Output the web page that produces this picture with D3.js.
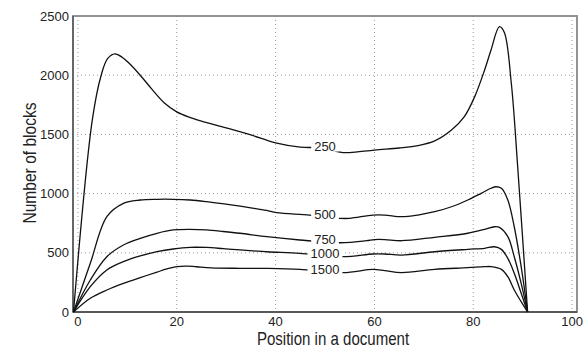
<!DOCTYPE html>
<html>
<head>
<meta charset="utf-8">
<script src="https://cdn.jsdelivr.net/npm/d3@7"></script>
<style>
  body { margin: 0; background: #fff; }
  text { font-family: "Liberation Sans", Arial, sans-serif; fill: #222; }
</style>
</head>
<body>
<svg width="585" height="349"></svg>
<script>
// ticks
var xTicks = [0, 20, 40, 60, 80, 100];
var yTicks = [0, 500, 1000, 1500, 2000, 2500];
var gridY = [500, 1000, 1500, 2000];

// curves, one per block size (position, number of blocks)
var names = ["250", "500", "750", "1000", "1500"];
var s250 = [[-0.9,0],[2.9,1620],[4.7,2000],[6,2140],[7.5,2180],[9,2150],[10,2115],[12.6,2000],[15,1880],[17.5,1765],[20,1690],[22.5,1645],[25,1612],[30,1555],[35,1495],[40,1428],[45,1392],[50,1385],[53,1350],[55,1346],[60,1368],[65,1385],[68.8,1405],[72.2,1445],[75.6,1537],[78.2,1650],[80.3,1819],[82.3,2044],[83.6,2213],[85.3,2410],[86.3,2360],[87.7,1934],[89,1225],[91,0]];
var s500 = [[-0.9,0],[2.5,411],[5.85,805],[9.2,918],[12.6,946],[16,952],[19.3,952],[22.7,946],[26,932],[31,905],[35,880],[38.2,858],[40.2,839],[46.9,819],[53,791],[55,791],[59.7,819],[62.1,819],[65.5,805],[68.8,819],[72.2,847],[75.6,889],[78.9,946],[81.6,1002],[83.6,1045],[84.6,1058],[85.7,1045],[87,946],[88.3,720],[89.7,383],[91,0]];
var s750 = [[-0.9,0],[2.5,270],[5.85,467],[9.2,566],[12.6,622],[16,665],[19.3,693],[22.7,698],[26,693],[29.4,680],[32.8,665],[38.2,636],[44.9,608],[53,585],[58.4,602],[60,612],[62.1,612],[65.5,602],[72.2,631],[78.9,665],[82.3,698],[84.3,720],[85.3,715],[87,636],[88.3,467],[89.7,242],[91,0]];
var s1000 = [[-0.9,0],[2.5,214],[5.85,355],[9.2,425],[12.6,473],[16,509],[19.3,532],[22.7,546],[26,545],[29.4,535],[32.8,524],[38.2,509],[44.9,495],[53.7,467],[59.7,490],[62.1,490],[65.5,481],[72.2,509],[78.9,529],[82.3,538],[84.3,551],[85.7,529],[87,453],[88.3,327],[89.7,158],[91,0]];
var s1500 = [[-0.9,0],[2.5,116],[5.85,186],[9.2,242],[12.6,290],[16,337],[18,364],[20,384],[22,388],[24,382],[27,373],[32.8,369],[38.2,368],[44.9,360],[53.7,332],[59.7,360],[62.1,349],[65.5,332],[72.2,360],[78.9,374],[82.3,383],[83.6,383],[85.7,360],[87,298],[88.3,186],[89.7,87],[91,0]];
var series = [s250, s500, s750, s1000, s1500];
var labelAt = 50;

var svg = d3.select("svg");
var pLeft = 73, pRight = 577, pTop = 16, pBottom = 312;

var x = d3.scaleLinear().domain([-1, 101]).range([pLeft, pRight]);
var y = d3.scaleLinear().domain([0, 2500]).range([pBottom, pTop]);

// grid
svg.append("g").selectAll("line").data(xTicks).enter().append("line")
    .attr("x1", d => x(d)).attr("x2", d => x(d))
    .attr("y1", pTop).attr("y2", pBottom)
    .attr("stroke", "#999").attr("stroke-width", 1)
    .attr("stroke-dasharray", "1,3");
svg.append("g").selectAll("line").data(gridY).enter().append("line")
    .attr("x1", pLeft).attr("x2", pRight)
    .attr("y1", d => y(d)).attr("y2", d => y(d))
    .attr("stroke", "#999").attr("stroke-width", 1)
    .attr("stroke-dasharray", "1,3");

// frame
svg.append("rect")
    .attr("x", pLeft).attr("y", pTop)
    .attr("width", pRight - pLeft).attr("height", pBottom - pTop)
    .attr("fill", "none").attr("stroke", "#888").attr("stroke-width", 1.8);
svg.append("line").attr("x1", pLeft).attr("x2", pRight).attr("y1", pBottom).attr("y2", pBottom)
    .attr("stroke", "#444").attr("stroke-width", 1.4);
svg.append("line").attr("x1", pLeft).attr("x2", pLeft).attr("y1", pTop).attr("y2", pBottom)
    .attr("stroke", "#555").attr("stroke-width", 1.4);

// tick labels
svg.append("g").selectAll("text").data(xTicks).enter().append("text")
    .attr("x", d => x(d)).attr("y", 326)
    .attr("text-anchor", "middle").attr("font-size", 13)
    .text(d => d);
svg.append("g").selectAll("text").data(yTicks).enter().append("text")
    .attr("x", 69).attr("y", d => y(d)).attr("dy", "0.35em")
    .attr("text-anchor", "end").attr("font-size", 13)
    .text(d => d);

// axis titles (text in the picture is a bit narrow, so squeeze it)
svg.append("text")
    .attr("transform", "translate(333,345) scale(0.86,1)")
    .attr("text-anchor", "middle").attr("font-size", 17.5)
    .text("Position in a document");
svg.append("text")
    .attr("transform", "translate(36,163) rotate(-90) scale(0.82,1)")
    .attr("text-anchor", "middle").attr("font-size", 19)
    .text("Number of blocks");

// curves
var line = d3.line()
    .x(d => x(d[0])).y(d => y(d[1]))
    .curve(d3.curveCatmullRom.alpha(0.5));

svg.append("g").selectAll("path").data(series).enter().append("path")
    .attr("d", line)
    .attr("fill", "none").attr("stroke", "#111").attr("stroke-width", 1.3);

// inline labels
function valueAt(s, px) {
    for (var i = 1; i < s.length; i++) {
        if (s[i][0] >= px) {
            var t = (px - s[i-1][0]) / (s[i][0] - s[i-1][0]);
            return s[i-1][1] + t * (s[i][1] - s[i-1][1]);
        }
    }
    return s[s.length - 1][1];
}

var lab = svg.append("g").selectAll("g").data(series).enter().append("g")
    .attr("transform", d => "translate(" + x(labelAt) + "," + (y(valueAt(d, labelAt)) - 2) + ")");
lab.append("rect").attr("fill", "#fff");
lab.append("text")
    .attr("text-anchor", "middle").attr("dy", "0.35em").attr("font-size", 13)
    .text((d, i) => names[i]);
lab.each(function () {
    var g = d3.select(this);
    var b = g.select("text").node().getBBox();
    g.select("rect")
        .attr("x", b.x - 3).attr("y", b.y + 2)
        .attr("width", b.width + 6).attr("height", b.height - 4);
});
</script>
</body>
</html>
